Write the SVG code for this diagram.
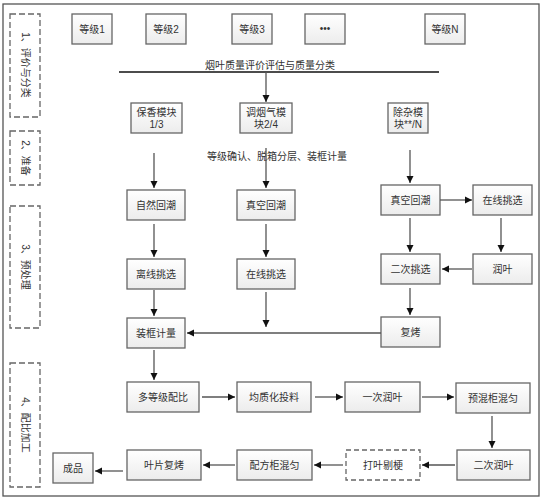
<svg xmlns="http://www.w3.org/2000/svg" width="542" height="500" viewBox="0 0 542 500">
<defs>
<linearGradient id="g" x1="0" y1="0" x2="0" y2="1"><stop offset="0" stop-color="#ffffff"/><stop offset="1" stop-color="#ececec"/></linearGradient>
<marker id="a" markerWidth="8" markerHeight="8" refX="7" refY="4" orient="auto" markerUnits="userSpaceOnUse"><path d="M0,0.5 L7,4 L0,7.5 Z" fill="#111"/></marker>
<style>
.b{fill:url(#g);stroke:#666;stroke-width:1.3}
.d{fill:#fff;stroke:#666;stroke-width:1.3;stroke-dasharray:5,3}
.p{fill:none;stroke:#666;stroke-width:1.3;stroke-dasharray:6,3}
.t{font-family:"Liberation Sans","Noto Sans CJK SC",sans-serif;font-size:10px;fill:#333;text-anchor:middle}
.c line,.c path{stroke:#555;stroke-width:1.3;fill:none}
.m{marker-end:url(#a)}
</style>
</defs>
<rect x="0" y="0" width="542" height="500" fill="#fff"/>
<rect x="3" y="4" width="536" height="492" fill="#fff" stroke="#555" stroke-width="1.3"/>

<g id="phase1"><rect class="p" x="10" y="14" width="30" height="103"/><text class="t" transform="translate(25,65) rotate(90)" dy="3.5">1、评价与分类</text></g>
<g id="phase2"><rect class="p" x="10" y="131" width="30" height="54"/><text class="t" transform="translate(25,158) rotate(90)" dy="3.5">2、准备</text></g>
<g id="phase3"><rect class="p" x="10" y="206" width="30" height="122"/><text class="t" transform="translate(25,267) rotate(90)" dy="3.5">3、预处理</text></g>
<g id="phase4"><rect class="p" x="10" y="363" width="30" height="124"/><text class="t" transform="translate(25,425) rotate(90)" dy="3.5">4、配比加工</text></g>

<g id="g1"><rect class="b" x="72" y="14" width="40" height="30"/><text class="t" x="92" y="33">等级1</text></g>
<g id="g2"><rect class="b" x="146" y="14" width="40" height="30"/><text class="t" x="166" y="33">等级2</text></g>
<g id="g3"><rect class="b" x="232" y="14" width="40" height="30"/><text class="t" x="252" y="33">等级3</text></g>
<g id="gdots"><rect class="b" x="305" y="14" width="40" height="30"/><text class="t" x="325" y="32">•••</text></g>
<g id="gN"><rect class="b" x="425" y="14" width="40" height="30"/><text class="t" x="445" y="33">等级N</text></g>

<g id="classify"><text class="t" x="270" y="69">烟叶质量评价评估与质量分类</text></g>

<g id="m1"><rect class="b" x="131" y="103" width="51" height="30"/><text class="t" x="156.5" y="116">保香模块</text><text class="t" x="156.5" y="128">1/3</text></g>
<g id="m2"><rect class="b" x="240" y="103" width="52" height="30"/><text class="t" x="266" y="116">调烟气模</text><text class="t" x="266" y="128">块2/4</text></g>
<g id="m3"><rect class="b" x="388" y="103" width="40" height="30"/><text class="t" x="408" y="116">除杂模</text><text class="t" x="408" y="128">块**/N</text></g>

<g id="prep"><text class="t" x="277" y="160">等级确认、脱箱分层、装框计量</text></g>

<g id="n1"><rect class="b" x="127" y="190" width="58" height="30"/><text class="t" x="156" y="209">自然回潮</text></g>
<g id="n2"><rect class="b" x="237" y="190" width="58" height="30"/><text class="t" x="266" y="209">真空回潮</text></g>
<g id="n3"><rect class="b" x="381" y="185" width="59" height="30"/><text class="t" x="410.5" y="204">真空回潮</text></g>
<g id="n4"><rect class="b" x="473" y="185" width="59" height="30"/><text class="t" x="502.5" y="204">在线挑选</text></g>

<g id="n5"><rect class="b" x="127" y="259" width="58" height="30"/><text class="t" x="156" y="278">离线挑选</text></g>
<g id="n6"><rect class="b" x="237" y="259" width="58" height="30"/><text class="t" x="266" y="278">在线挑选</text></g>
<g id="n7"><rect class="b" x="381" y="254" width="59" height="30"/><text class="t" x="410.5" y="273">二次挑选</text></g>
<g id="n8"><rect class="b" x="473" y="254" width="59" height="30"/><text class="t" x="502.5" y="273">润叶</text></g>

<g id="n9"><rect class="b" x="127" y="318" width="58" height="30"/><text class="t" x="156" y="337">装框计量</text></g>
<g id="n10"><rect class="b" x="381" y="317" width="59" height="30"/><text class="t" x="410.5" y="336">复烤</text></g>

<g id="n11"><rect class="b" x="127" y="382" width="72" height="30"/><text class="t" x="163" y="401">多等级配比</text></g>
<g id="n12"><rect class="b" x="237" y="382" width="74" height="30"/><text class="t" x="274" y="401">均质化投料</text></g>
<g id="n13"><rect class="b" x="345" y="382" width="75" height="30"/><text class="t" x="382.5" y="401">一次润叶</text></g>
<g id="n14"><rect class="b" x="456" y="383" width="74" height="30"/><text class="t" x="493" y="402">预混柜混匀</text></g>

<g id="n15"><rect class="b" x="457" y="450" width="73" height="30"/><text class="t" x="493.5" y="469">二次润叶</text></g>
<g id="n16"><rect class="d" x="346" y="450" width="74" height="30"/><text class="t" x="383" y="469">打叶剔梗</text></g>
<g id="n17"><rect class="b" x="237" y="450" width="75" height="30"/><text class="t" x="274.5" y="469">配方柜混匀</text></g>
<g id="n18"><rect class="b" x="127" y="450" width="74" height="30"/><text class="t" x="164" y="469">叶片复烤</text></g>
<g id="n19"><rect class="b" x="53" y="453" width="40" height="30"/><text class="t" x="73" y="472">成品</text></g>

<g id="connectors" class="c">
<line x1="119" y1="72" x2="439" y2="72" style="stroke:#111;stroke-width:1.6"/>
<line class="m" x1="266" y1="72" x2="266" y2="102"/>
<line class="m" x1="154" y1="153" x2="154" y2="188"/>
<line class="m" x1="266" y1="148" x2="266" y2="188"/>
<line class="m" x1="410" y1="150" x2="410" y2="183"/>
<line class="m" x1="440" y1="200" x2="472" y2="200"/>
<line class="m" x1="154" y1="224" x2="154" y2="257"/>
<line class="m" x1="266" y1="224" x2="266" y2="257"/>
<line class="m" x1="410" y1="218" x2="410" y2="252"/>
<line class="m" x1="501" y1="218" x2="501" y2="252"/>
<line class="m" x1="472" y1="269" x2="442" y2="269"/>
<line class="m" x1="154" y1="290" x2="154" y2="316"/>
<line class="m" x1="266" y1="292" x2="266" y2="327"/>
<line class="m" x1="410" y1="288" x2="410" y2="315"/>
<line class="m" x1="381" y1="333" x2="187" y2="333"/>
<line class="m" x1="154" y1="350" x2="154" y2="380"/>
<line class="m" x1="202" y1="397" x2="235" y2="397"/>
<line class="m" x1="315" y1="397" x2="343" y2="397"/>
<line class="m" x1="422" y1="397" x2="454" y2="397"/>
<line class="m" x1="492" y1="416" x2="492" y2="448"/>
<line class="m" x1="455" y1="465" x2="422" y2="465"/>
<line class="m" x1="343" y1="465" x2="314" y2="465"/>
<line class="m" x1="235" y1="465" x2="203" y2="465"/>
<line class="m" x1="123" y1="471" x2="95" y2="471"/>
</g>
</svg>
